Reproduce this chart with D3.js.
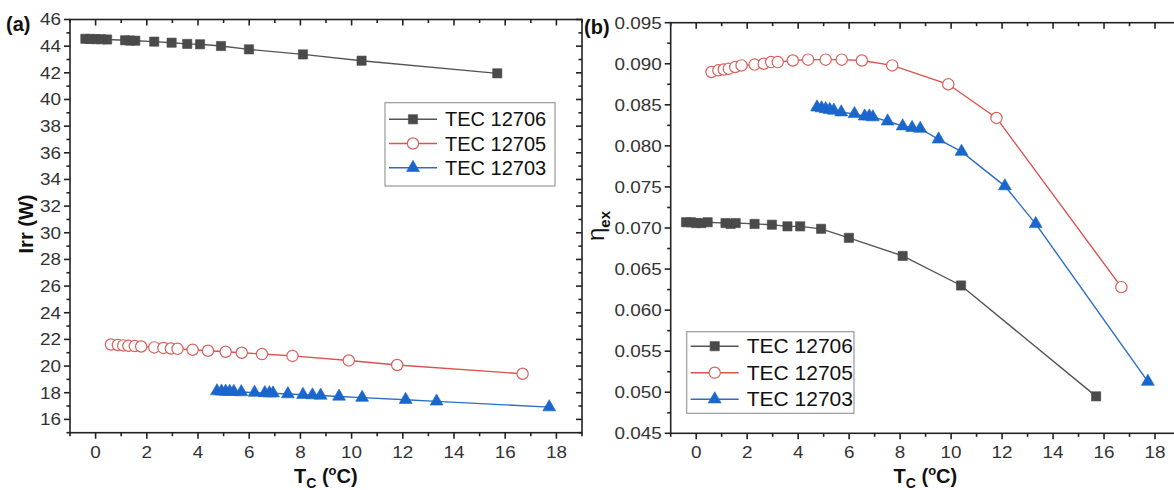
<!DOCTYPE html>
<html><head><meta charset="utf-8">
<script src="https://cdn.jsdelivr.net/npm/d3@7"></script>
<style>body{margin:0;background:#fff}svg{display:block;font-family:"Liberation Sans",Arial,sans-serif}</style>
</head><body><svg id="c" width="1174" height="490"></svg>
<script>
// ---- data ----
const seriesNames = ["TEC 12706", "TEC 12705", "TEC 12703"];
const tc12706 = [-0.4, -0.2, 0.0, 0.2, 0.45, 1.15, 1.35, 1.55, 2.29, 2.97, 3.58, 4.08, 4.9, 5.99, 8.1, 10.39, 15.69];
const irr12706 = [44.55, 44.54, 44.53, 44.52, 44.5, 44.44, 44.42, 44.41, 44.34, 44.26, 44.17, 44.14, 44.01, 43.76, 43.38, 42.91, 41.96];
const eta12706 = [0.0707, 0.0707, 0.0706, 0.0706, 0.0707, 0.0706, 0.0705, 0.0706, 0.0705, 0.0704, 0.0702, 0.0702, 0.0699, 0.0688, 0.0666, 0.0630, 0.0495];
const tc12705 = [0.6, 0.87, 1.08, 1.28, 1.53, 1.78, 2.29, 2.65, 2.94, 3.2, 3.79, 4.39, 5.08, 5.71, 6.5, 7.69, 9.89, 11.78, 16.68];
const irr12705 = [21.62, 21.58, 21.55, 21.52, 21.5, 21.47, 21.4, 21.36, 21.32, 21.29, 21.22, 21.15, 21.07, 21.0, 20.9, 20.76, 20.42, 20.08, 19.42];
const eta12705 = [0.0890, 0.0892, 0.0893, 0.0894, 0.0896, 0.0898, 0.0899, 0.0900, 0.0902, 0.0902, 0.0904, 0.0905, 0.0905, 0.0905, 0.0904, 0.0898, 0.0875, 0.0834, 0.0628];
const tc12703 = [4.74, 4.92, 5.08, 5.24, 5.4, 5.69, 6.21, 6.61, 6.79, 6.93, 7.51, 8.1, 8.47, 8.79, 9.51, 10.41, 12.11, 13.32, 17.72];
const irr12703 = [18.12, 18.1, 18.09, 18.08, 18.07, 18.05, 18.01, 17.98, 17.97, 17.96, 17.9, 17.85, 17.82, 17.79, 17.72, 17.63, 17.47, 17.35, 16.92];
const eta12703 = [0.0847, 0.0846, 0.0845, 0.0844, 0.0843, 0.0841, 0.0839, 0.0836, 0.0836, 0.0835, 0.0830, 0.0824, 0.0822, 0.0821, 0.0808, 0.0793, 0.0751, 0.0705, 0.0513];
const xTicks = [0, 2, 4, 6, 8, 10, 12, 14, 16, 18];
const irrTicks = [16, 18, 20, 22, 24, 26, 28, 30, 32, 34, 36, 38, 40, 42, 44, 46];
const etaTicks = [0.045, 0.050, 0.055, 0.060, 0.065, 0.070, 0.075, 0.080, 0.085, 0.090, 0.095];

// ---- styles ----
const lineCol = ["#555555", "#d9534f", "#2b6fc4"];
const markFill = ["#4a4a4a", "#ffffff", "#1a66cc"];
const markStroke = ["#4a4a4a", "#d9605c", "#1a66cc"];
const symbols = [d3.symbolSquare, d3.symbolCircle, d3.symbolTriangle];
const symSize = [85, 100, 72];
const SX = 1.18; // horizontal stretch of the reference's tick labels

const svg = d3.select("#c");

function panel(o) {
  const g = svg.append("g");
  const x = d3.scaleLinear().domain([-1, 19]).range([o.L, o.R]);
  const y = d3.scaleLinear().domain(o.yDom).range([o.B, o.T]);
  const minorX = d3.range(-1, 19.5, 1).filter(v => v % 2 !== 0);
  const minorY = o.minorY;
  o.series.forEach((s, i) => {
    const pts = s.x.map((v, k) => [v, s.y[k]]);
    g.append("path").attr("d", d3.line().x(d => x(d[0])).y(d => y(d[1]))(pts))
      .attr("fill", "none").attr("stroke", lineCol[i]).attr("stroke-width", 1.4);
  });
  o.series.forEach((s, i) => {
    const pts = s.x.map((v, k) => [v, s.y[k]]);
    g.selectAll(null).data(pts).enter().append("path")
      .attr("d", d3.symbol().type(symbols[i]).size(symSize[i]))
      .attr("transform", d => `translate(${x(d[0])},${y(d[1])})`)
      .attr("fill", markFill[i]).attr("stroke", markStroke[i]).attr("stroke-width", i === 1 ? 1.2 : 0.6);
  });
  const ax = g.append("g").attr("stroke", "#222").attr("stroke-width", 1.6);
  ax.append("rect").attr("x", o.L).attr("y", o.T).attr("width", o.R - o.L).attr("height", o.B - o.T).attr("fill", "none");
  const tk = (x1, y1, x2, y2) => ax.append("line").attr("x1", x1).attr("y1", y1).attr("x2", x2).attr("y2", y2);
  o.xTicks.forEach(v => { tk(x(v), o.B, x(v), o.B + 6); tk(x(v), o.T, x(v), o.T + 6); });
  minorX.forEach(v => { tk(x(v), o.B, x(v), o.B + 3.5); tk(x(v), o.T, x(v), o.T + 3.5); });
  o.yTicks.forEach(v => { tk(o.L - 6, y(v), o.L, y(v)); tk(o.R - 6, y(v), o.R, y(v)); });
  minorY.forEach(v => { tk(o.L - 3.5, y(v), o.L, y(v)); tk(o.R - 3.5, y(v), o.R, y(v)); });
  g.selectAll(null).data(o.xTicks).enter().append("text")
    .attr("transform", d => `translate(${x(d)},${o.B + 25}) scale(${SX},1)`).attr("text-anchor", "middle")
    .attr("font-size", 16).attr("fill", "#333").text(d => d);
  g.selectAll(null).data(o.yTicks).enter().append("text")
    .attr("transform", d => `translate(${o.L - 9},${y(d) + 5.8}) scale(${SX},1)`).attr("text-anchor", "end")
    .attr("font-size", 16).attr("fill", "#333").text(o.yFmt);
  const xt = g.append("text").attr("x", (o.L + o.R) / 2 - 32 + (o.xtShift || 0)).attr("y", o.B + 50)
    .attr("font-size", 20).attr("font-weight", "bold").attr("fill", "#111");
  xt.append("tspan").text("T");
  xt.append("tspan").attr("font-size", 14).attr("dy", 5).text("C");
  xt.append("tspan").attr("dy", -5).text(" (");
  xt.append("tspan").attr("font-size", 13).attr("dy", -8).text("o");
  xt.append("tspan").attr("dy", 8).text("C)");
  g.append("text").attr("x", o.letterX).attr("y", o.T + 11).attr("font-size", 20).attr("font-weight", "bold")
    .attr("fill", "#111").text(o.letter);
  const lg = g.append("g");
  lg.append("rect").attr("x", o.lg.x).attr("y", o.lg.y).attr("width", o.lg.w).attr("height", o.lg.h)
    .attr("fill", "#fff").attr("stroke", "#9a9a9a").attr("stroke-width", 1.2);
  seriesNames.forEach((n, i) => {
    const ry = o.lg.y + o.lg.r0 + i * o.lg.dy;
    lg.append("line").attr("x1", o.lg.x + 4).attr("x2", o.lg.x + 52).attr("y1", ry).attr("y2", ry)
      .attr("stroke", lineCol[i]).attr("stroke-width", 1.4);
    lg.append("path").attr("d", d3.symbol().type(symbols[i]).size(symSize[i]))
      .attr("transform", `translate(${o.lg.x + 28},${ry})`)
      .attr("fill", markFill[i]).attr("stroke", markStroke[i]).attr("stroke-width", i === 1 ? 1.2 : 0.6);
    lg.append("text").attr("x", o.lg.x + 60).attr("y", ry + 7).attr("font-size", o.lg.fs).attr("fill", "#111").text(n);
  });
  return g;
}

panel({
  L: 70, R: 582, T: 19.5, B: 432.7, yDom: [15, 46],
  xTicks: xTicks, yTicks: irrTicks, minorY: d3.range(15, 46, 2),
  yFmt: d => d, letter: "(a)", letterX: 6,
  series: [{x: tc12706, y: irr12706}, {x: tc12705, y: irr12705}, {x: tc12703, y: irr12703}],
  lg: {x: 385, y: 102.7, w: 170, h: 83.3, r0: 16.6, dy: 24.2, fs: 20}
});
panel({
  L: 670.7, R: 1180.5, T: 22.7, B: 433.3, yDom: [0.045, 0.095],
  xTicks: xTicks, yTicks: etaTicks, minorY: d3.range(0.0475, 0.095, 0.005),
  yFmt: d => d3.format(".3f")(d), letter: "(b)", letterX: 584,
  series: [{x: tc12706, y: eta12706}, {x: tc12705, y: eta12705}, {x: tc12703, y: eta12703}],
  lg: {x: 686.7, y: 331.7, w: 167.3, h: 81.6, r0: 14.5, dy: 26.5, fs: 21}
});

svg.append("text").attr("transform", "translate(33,224) rotate(-90)").attr("text-anchor", "middle")
  .attr("font-size", 20).attr("font-weight", "bold").attr("fill", "#111").text("Irr (W)");
const et = svg.append("text").attr("transform", "translate(604,226) rotate(-90)").attr("text-anchor", "middle")
  .attr("font-size", 24).attr("fill", "#111");
et.append("tspan").text("η");
et.append("tspan").attr("font-size", 15).attr("font-weight", "bold").attr("dy", 6).text("ex");
</script></body></html>
